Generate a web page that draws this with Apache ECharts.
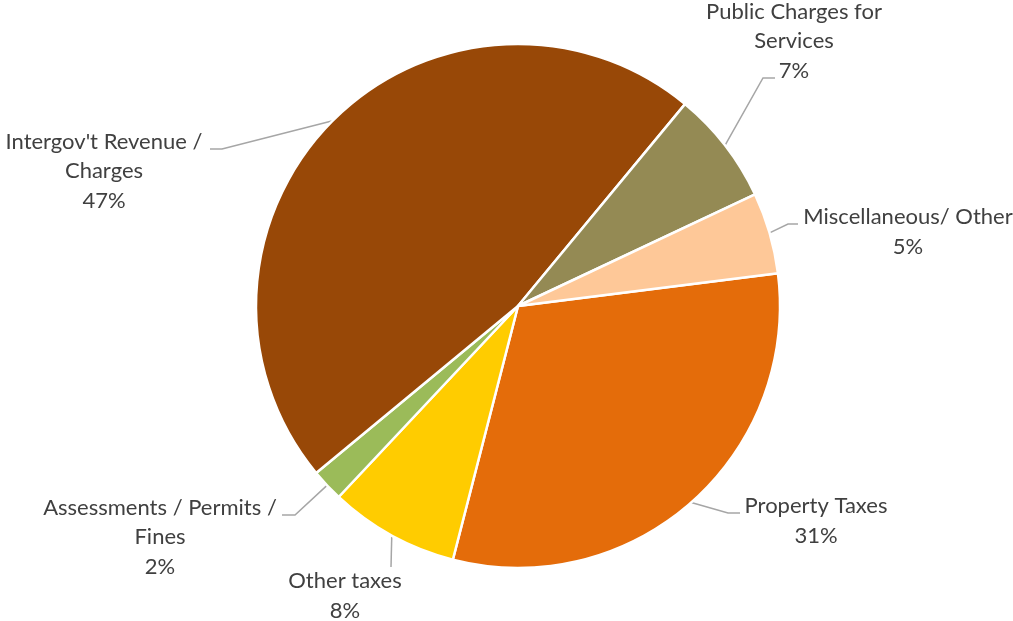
<!DOCTYPE html>
<html>
<head>
<meta charset="utf-8">
<title>Revenue Sources</title>
<script src="https://cdn.jsdelivr.net/npm/echarts@6/dist/echarts.min.js"></script>
<style>
  html, body { margin: 0; padding: 0; background: #ffffff; }
  #chart { width: 1013px; height: 621px; }
</style>
</head>
<body>
<div id="chart"></div>
<script>
// Revenue shares (percent), listed clockwise from Property Taxes
const categories = [
  'Property Taxes',
  'Other taxes',
  'Assessments / Permits /\nFines',
  "Intergov't Revenue /\nCharges",
  'Public Charges for\nServices',
  'Miscellaneous/ Other'
];
const shares = [31, 8, 2, 47, 7, 5];
const sliceColors = ['#E46C0A', '#FFCC00', '#9BBB59', '#984807', '#948A54', '#FEC898'];

// Label anchor (text block centre) and leader-line elbow / end for each slice
const labelSpots = [
  { x: 816, y: 521, elbow: [728, 513], end: [740, 513] },
  { x: 345, y: 596, elbow: [391, 567], end: [391, 567] },
  { x: 160, y: 537, elbow: [295, 515], end: [282, 515] },
  { x: 104, y: 171, elbow: [222, 149], end: [210, 149] },
  { x: 794, y: 41,  elbow: [763, 78],  end: [775, 78] },
  { x: 908, y: 232, elbow: [788, 224], end: [798, 224] }
];

const chart = echarts.init(document.getElementById('chart'), null, { renderer: 'canvas' });

chart.setOption({
  animation: false,
  backgroundColor: '#ffffff',
  series: [{
    type: 'pie',
    center: [518, 306],
    radius: 262,
    startAngle: 7.2,
    clockwise: true,
    avoidLabelOverlap: false,
    data: categories.map((name, i) => ({
      name: name,
      value: shares[i],
      itemStyle: { color: sliceColors[i] }
    })),
    itemStyle: { borderColor: '#ffffff', borderWidth: 2.5 },
    label: {
      show: true,
      position: 'outside',
      formatter: '{b}\n{c}%',
      color: '#404040',
      fontFamily: 'Lato',
      fontSize: 22,
      lineHeight: 29.5,
      align: 'center'
    },
    labelLine: {
      show: true,
      length: 20,
      length2: 10,
      lineStyle: { color: '#A6A6A6', width: 1.5 }
    },
    labelLayout: function (params) {
      const spot = labelSpots[params.dataIndex];
      const start = params.labelLinePoints ? params.labelLinePoints[0] : spot.elbow;
      return {
        x: spot.x,
        y: spot.y,
        align: 'center',
        verticalAlign: 'middle',
        labelLinePoints: [start, spot.elbow, spot.end]
      };
    },
    emphasis: { disabled: true }
  }]
});
</script>
</body>
</html>
